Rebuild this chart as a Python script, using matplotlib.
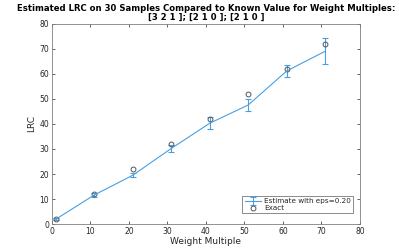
import matplotlib.pyplot as plt
import numpy as np

# weight multiples and LRC values
weights = [1, 11, 21, 31, 41, 51, 61, 71]
estimate = [1.9, 11.6, 19.5, 30.2, 40.3, 47.6, 61.2, 69.1]
est_err = [0.4, 0.7, 0.8, 1.5, 2.3, 2.5, 2.3, 5.2]
exact = [2, 12, 22, 32, 42, 52, 62, 72]

grey = '#262626'
blue = '#4a9fe0'

fig = plt.figure(figsize=(3.99, 2.52), dpi=100)
ax = fig.add_axes([0.130, 0.111, 0.772, 0.794])

eb = ax.errorbar(weights, estimate, yerr=est_err, color=blue, lw=0.8,
                 elinewidth=0.8, capsize=2.5, capthick=0.8,
                 label='Estimate with eps=0.20')
ex, = ax.plot(weights, exact, 'o', mfc='none', mec='#555555', ms=3.5, mew=0.7,
              label='Exact')

ax.set_xlim(0, 80)
ax.set_ylim(0, 80)
ax.set_xticks(np.arange(0, 81, 10))
ax.set_yticks(np.arange(0, 81, 10))
ax.tick_params(direction='in', top=True, right=True, labelsize=5.5,
               colors=grey, length=2.5, width=0.5, pad=2)
for s in ax.spines.values():
    s.set_color('#808080')
    s.set_linewidth(0.6)

ax.set_xlabel('Weight Multiple', fontsize=6.5, color=grey, labelpad=1)
ax.set_ylabel('LRC', fontsize=6.5, color=grey, labelpad=2)
ax.set_title('Estimated LRC on 30 Samples Compared to Known Value for Weight Multiples:\n'
             '[3 2 1 ]; [2 1 0 ]; [2 1 0 ]',
             fontsize=6.1, fontweight='bold', color='black', pad=3, linespacing=1.0)

leg = ax.legend([eb, ex], ['Estimate with eps=0.20', 'Exact'],
                loc='lower right', fontsize=5.2, frameon=True, fancybox=False,
                borderpad=0.3, handlelength=2.2, handletextpad=0.5,
                labelspacing=0.1, bbox_to_anchor=(0.99, 0.035))
leg.get_frame().set_edgecolor('#333333')
leg.get_frame().set_linewidth(0.5)
for t in leg.get_texts():
    t.set_color(grey)

fig.savefig('out.png', dpi=100)
